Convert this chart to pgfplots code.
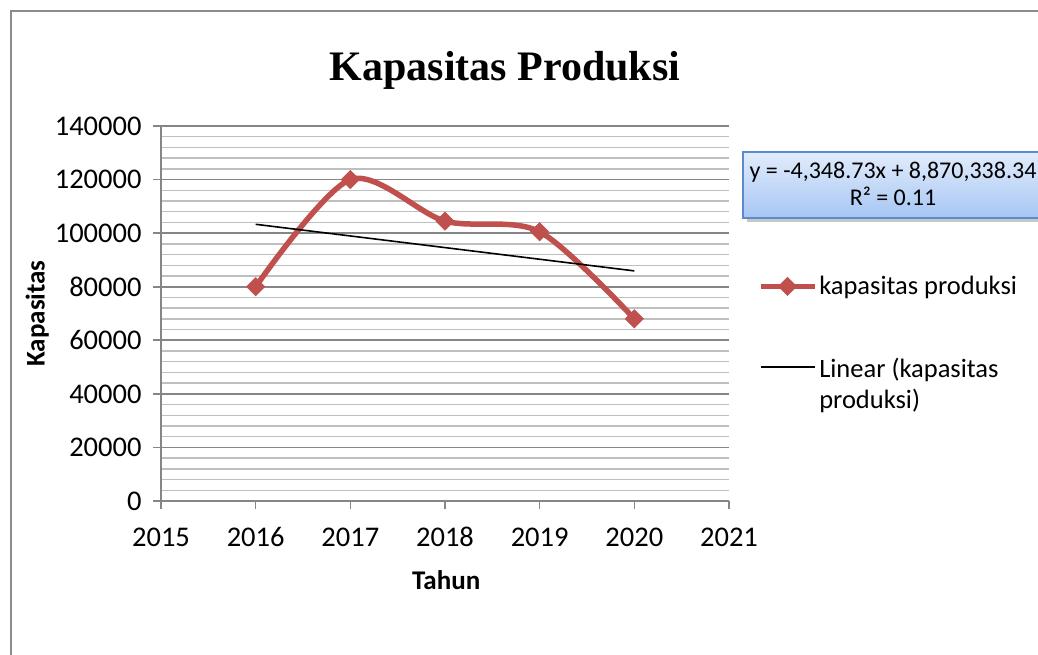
\documentclass[border=0pt]{standalone}
\usepackage{pgfplots}
\pgfplotsset{compat=1.18}
\usepackage{fontspec}
\setmainfont{Carlito}
\newfontfamily\titlefont{Liberation Serif}
\definecolor{serred}{HTML}{C0504D}
\definecolor{axisgray}{RGB}{134,134,134}
\definecolor{majgray}{RGB}{134,134,134}
\definecolor{mingray}{RGB}{191,191,191}
\definecolor{framegray}{RGB}{140,140,140}
\definecolor{boxblue}{RGB}{91,139,205}
\definecolor{boxtop}{RGB}{226,236,251}
\definecolor{boxbot}{RGB}{166,198,244}
\begin{document}
\begin{tikzpicture}[x=1pt,y=1pt]
\useasboundingbox (0,0) rectangle (1038,655);
\clip (0,0) rectangle (1038,655);
\fill[white] (0,0) rectangle (1038,655);
\draw[framegray, line width=2pt] (11,644) rectangle (1100,-50);
\node[font=\titlefont\fontsize{42}{50}\selectfont\bfseries] at (505,585) {Kapasitas Produksi};
\begin{axis}[
  at={(161pt,154pt)}, anchor=south west, scale only axis,
  width=568pt, height=375pt,
  xmin=2015, xmax=2021, ymin=0, ymax=140000,
  xtick={2015,2016,...,2021}, ytick={0,20000,...,140000},
  minor ytick={0,4000,...,140000},
  ymajorgrids, yminorgrids,
  axis x line*=bottom, axis y line*=left,
  scaled y ticks=false, scaled x ticks=false,
  /pgf/number format/fixed,
  /pgf/number format/precision=0,
  /pgf/number format/1000 sep={},
  /pgf/number format/assume math mode=true,
  tick align=outside, major tick length=8pt, minor tick length=0pt,
  axis line style={color=axisgray, line width=1.6pt},
  tick style={color=axisgray, line width=1.6pt},
  major grid style={color=majgray, line width=1.6pt},
  minor grid style={color=mingray, line width=1.3pt},
  tick label style={font=\fontsize{28.5}{34}\selectfont, black},
  xticklabel style={yshift=-15pt},
  yticklabel style={xshift=-8pt},
  xlabel={Tahun}, ylabel={Kapasitas},
  label style={font=\fontsize{27}{32}\selectfont\bfseries},
  xlabel style={at={(axis description cs:0.502,-0.211)}, anchor=center},
  ylabel style={at={(axis description cs:-0.218,0.5)}, anchor=center},
  legend style={at={(axis description cs:1.045,0.61)}, anchor=north west,
    draw=none, fill=none, font=\fontsize{26.5}{31.5}\selectfont, row sep=55pt},
  legend cell align=left,
  legend image code/.code={\draw[mark repeat=2,mark phase=2,#1] plot coordinates {(0pt,0pt) (27pt,0pt) (54pt,0pt)};},
]
\addplot[serred, line width=5.5pt, smooth, mark=square*, mark size=6.5pt,
  mark options={rotate=45, fill=serred, draw=serred, line width=0.5pt}]
  coordinates {(2016,80000) (2017,120000) (2018,104493) (2019,100513) (2020,68000)};
\addlegendentry{kapasitas produksi}
\addplot[black, line width=1.6pt] coordinates {(2016,103298.66) (2020,85903.74)};
\addlegendentry{\begin{tabular}[t]{@{}l@{}}Linear (kapasitas\\produksi)\end{tabular}}
\end{axis}
\fill[black!22] (747,433) rectangle (1050,500);
\draw[boxblue, line width=1.5pt, top color=boxtop, bottom color=boxbot] (743,437) rectangle (1045,503);
\node[font=\fontsize{24}{27.5}\selectfont, align=center] at (893,471) {y = -4,348.73x + 8,870,338.34\\R² = 0.11};
\end{tikzpicture}
\end{document}
